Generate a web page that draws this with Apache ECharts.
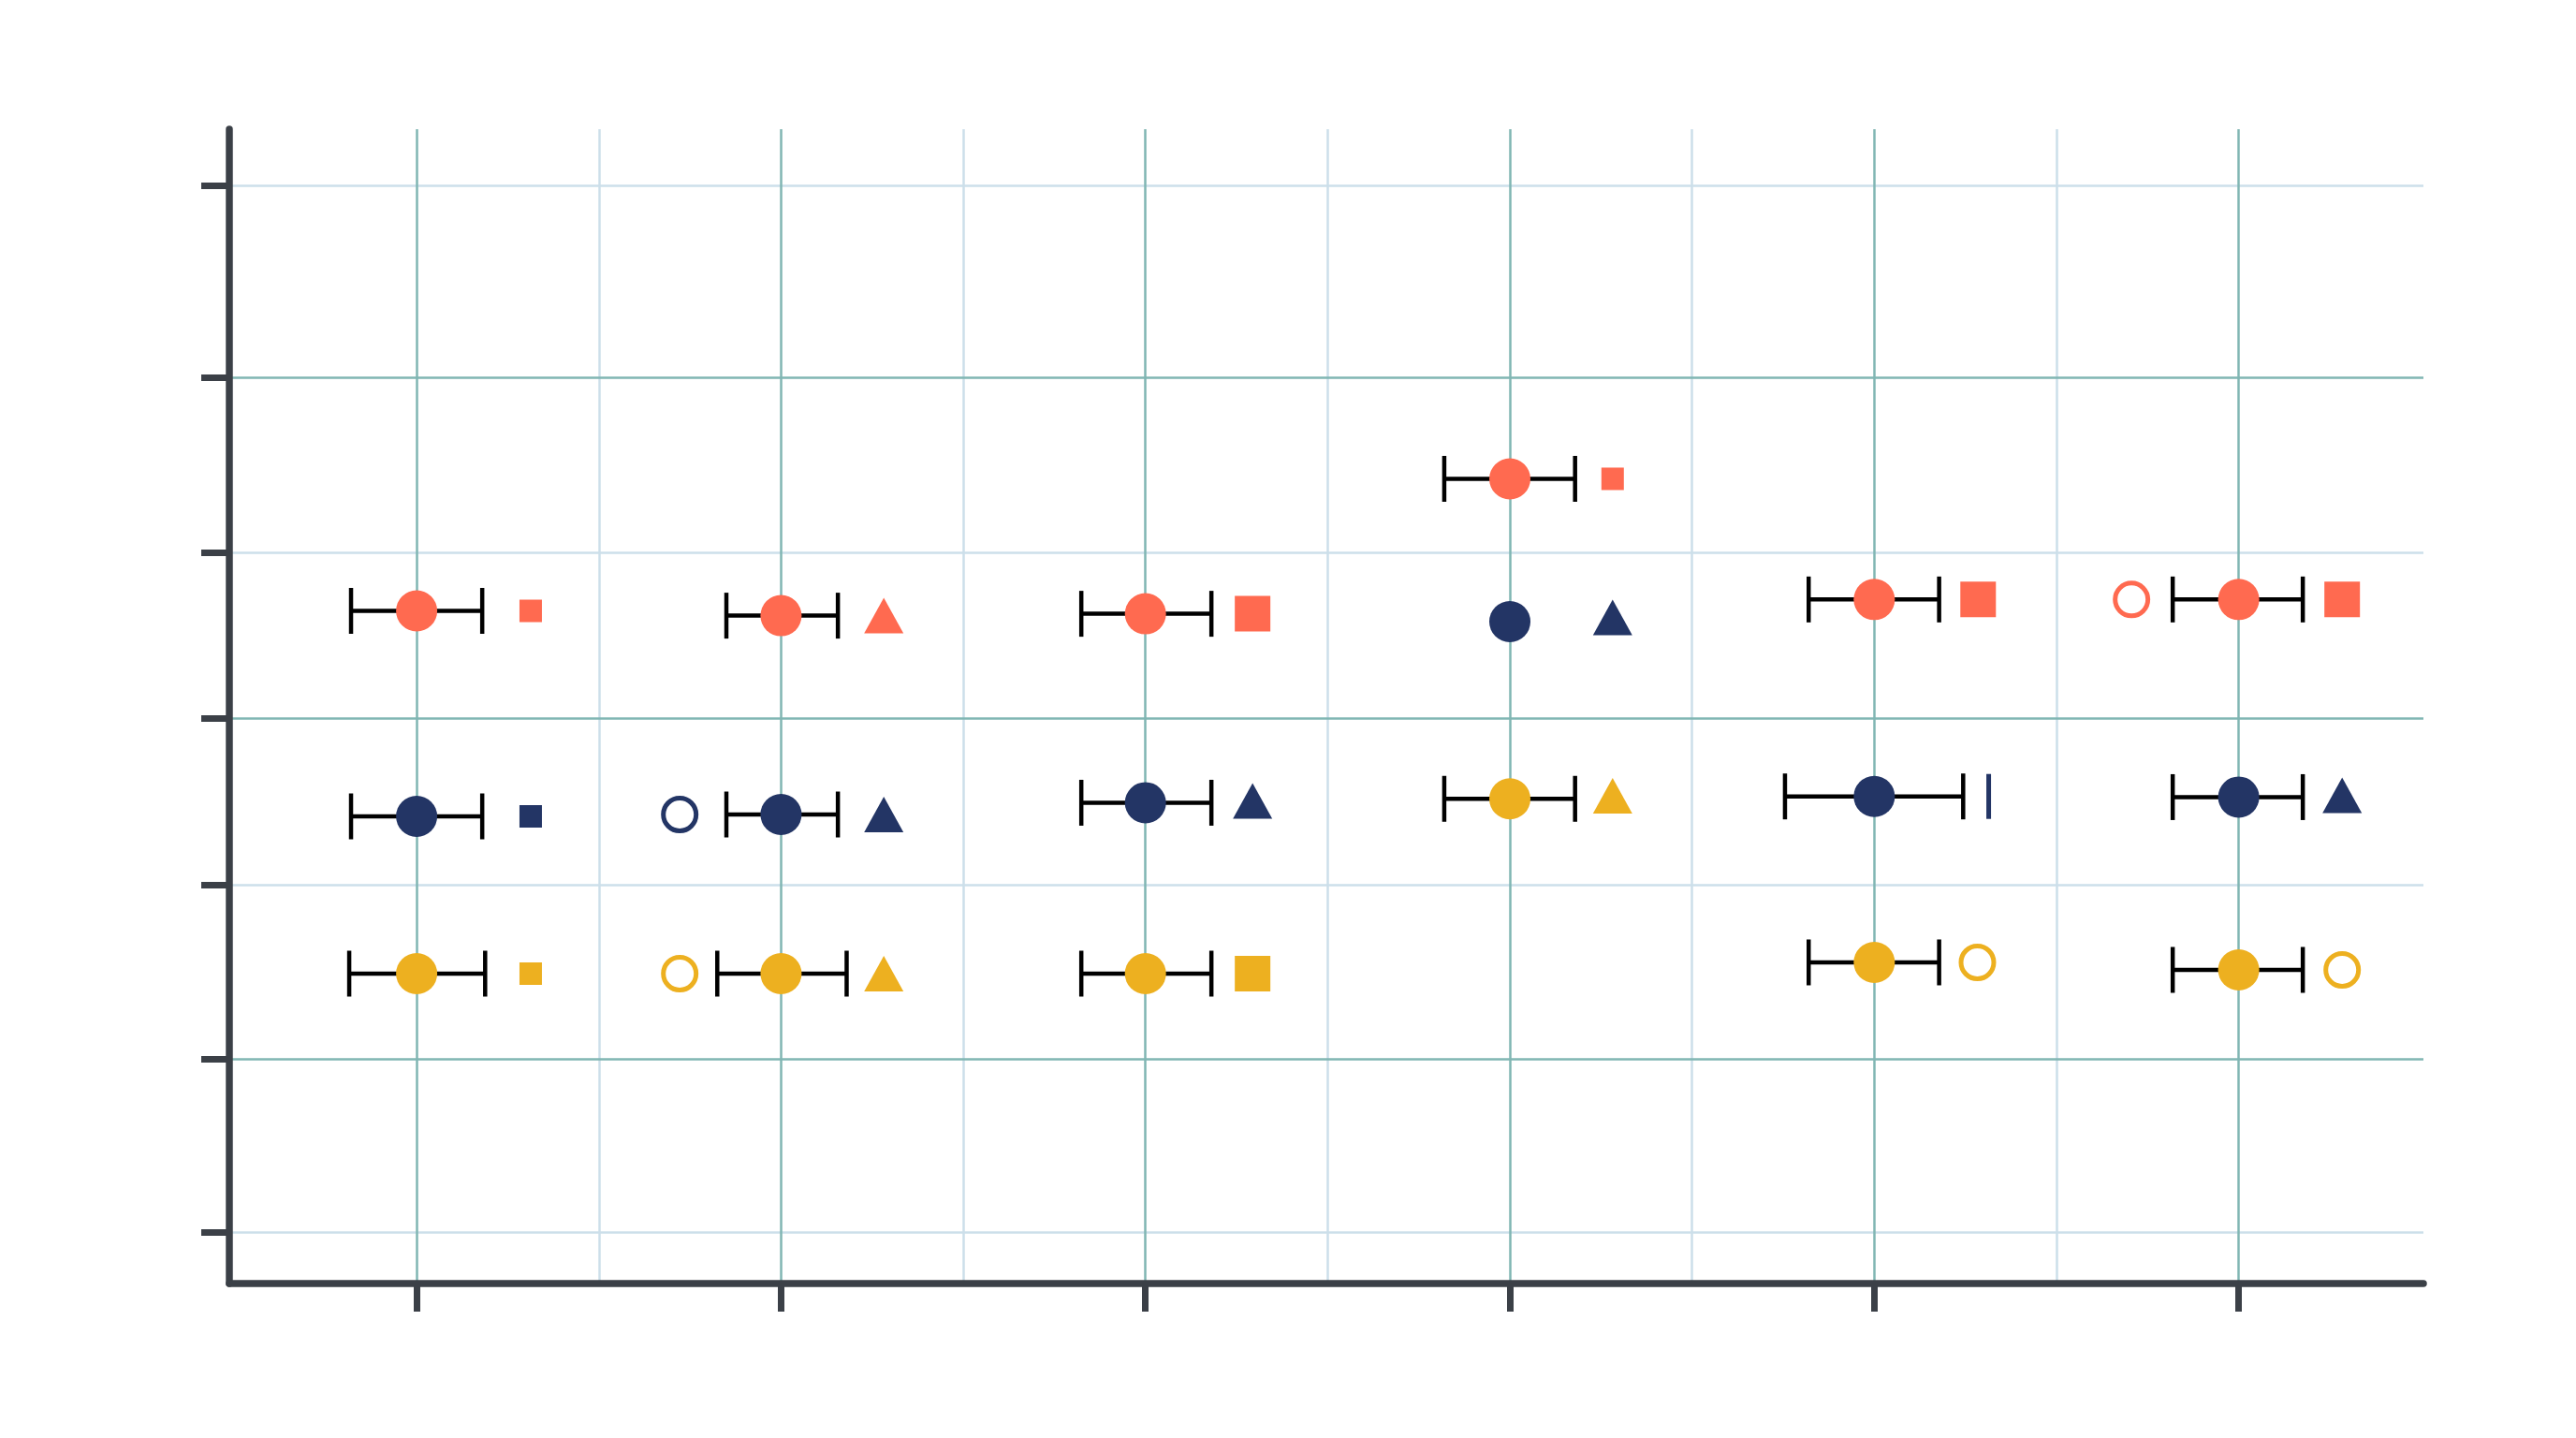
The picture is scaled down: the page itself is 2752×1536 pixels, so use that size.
<!DOCTYPE html>
<html>
<head>
<meta charset="utf-8">
<script src="https://cdn.jsdelivr.net/npm/echarts@6/dist/echarts.min.js"></script>
<style>
  html, body { margin: 0; padding: 0; background: #ffffff; }
  #chart { width: 2752px; height: 1536px; }
</style>
</head>
<body>
<div id="chart"></div>
<script>
// ---------- data ----------
const categories = [1, 2, 3, 4, 5, 6];

// y positions of the main points per group
const redY    = [46.29, 46.01, 46.12, 54.04, 46.96, 46.96];
const navyY   = [34.23, 34.34, 35.03, 45.66, 35.40, 35.36];
const yellowY = [25.00, 25.00, 25.00, 35.26, 25.66, 25.22];

// horizontal error intervals (x units)
const redLow     = [0.820, 1.850, 2.824, 3.820, 4.820, 5.819];
const redHigh    = [1.180, 2.156, 3.181, 4.179, 5.178, 6.176];
const navyLow    = [0.820, 1.850, 2.824, null,  4.755, 5.819];
const navyHigh   = [1.180, 2.156, 3.181, null,  5.244, 6.176];
const yellowLow  = [0.815, 1.825, 2.824, 3.820, 4.820, 5.819];
const yellowHigh = [1.188, 2.180, 3.181, 4.179, 5.178, 6.176];

// secondary markers: [x, y, kind, group]
const sideMarkers = [
  [1.313, 46.29, 'smallSquare', 'red'],
  [1.313, 34.23, 'smallSquare', 'navy'],
  [1.313, 25.00, 'smallSquare', 'yellow'],
  [2.282, 46.01, 'triangle', 'red'],
  [2.282, 34.34, 'triangle', 'navy'],
  [1.722, 34.34, 'ring', 'navy'],
  [2.282, 25.00, 'triangle', 'yellow'],
  [1.722, 25.00, 'ring', 'yellow'],
  [3.294, 46.12, 'bigSquare', 'red'],
  [3.294, 35.14, 'triangle', 'navy'],
  [3.294, 25.00, 'bigSquare', 'yellow'],
  [4.282, 54.04, 'smallSquare', 'red'],
  [4.282, 45.90, 'triangle', 'navy'],
  [4.282, 35.44, 'triangle', 'yellow'],
  [5.285, 46.96, 'bigSquare', 'red'],
  [5.314, 35.40, 'bar', 'navy'],
  [5.283, 25.66, 'ring', 'yellow'],
  [5.706, 46.96, 'ring', 'red'],
  [6.284, 46.96, 'bigSquare', 'red'],
  [6.284, 35.46, 'triangle', 'navy'],
  [6.284, 25.22, 'ring', 'yellow']
];

// grid line positions
const majorXLines = [1, 2, 3, 4, 5, 6];
const minorXLines = [1.5, 2.5, 3.5, 4.5, 5.5];
const majorYLines = [60, 40, 20];
const minorYLines = [71.26, 49.70, 30.22, 9.84];
const yTickValues = [71.26, 60, 49.70, 40, 30.22, 20, 9.84];

// ---------- styles ----------
const COLORS = { red: '#FF6A50', navy: '#233565', yellow: '#EDB020' };
const AXIS = '#3B4047';
const TEAL = '#80B6B3';
const LIGHT = '#CCDFEA';

const kindStyle = {
  smallSquare: { symbol: 'rect', size: [24, 24], filled: true },
  bigSquare:   { symbol: 'rect', size: [38, 38], filled: true },
  triangle:    { symbol: 'triangle', size: [42, 38], filled: true },
  ring:        { symbol: 'circle', size: 35, filled: false },
  bar:         { symbol: 'rect', size: [5, 48], filled: true }
};

// ---------- build ----------
function errData(low, high, ys) {
  const out = [];
  for (let i = 0; i < ys.length; i++) {
    if (low[i] != null && high[i] != null) out.push([low[i], high[i], ys[i]]);
  }
  return out;
}
const errorData = [].concat(
  errData(redLow, redHigh, redY),
  errData(navyLow, navyHigh, navyY),
  errData(yellowLow, yellowHigh, yellowY)
);

function renderErr(params, api) {
  const y = api.value(2);
  const p1 = api.coord([api.value(0), y]);
  const p2 = api.coord([api.value(1), y]);
  const h = 24.5;
  const st = { stroke: '#000000', lineWidth: 4.5, lineCap: 'butt' };
  return {
    type: 'group',
    children: [
      { type: 'line', shape: { x1: p1[0], y1: p1[1], x2: p2[0], y2: p2[1] }, style: st },
      { type: 'line', shape: { x1: p1[0], y1: p1[1] - h, x2: p1[0], y2: p1[1] + h }, style: st },
      { type: 'line', shape: { x1: p2[0], y1: p2[1] - h, x2: p2[0], y2: p2[1] + h }, style: st }
    ]
  };
}

const gridLineData = []
  .concat(minorXLines.map(v => ({ xAxis: v, lineStyle: { color: LIGHT, width: 2.5, type: 'solid' } })))
  .concat(minorYLines.map(v => ({ yAxis: v, lineStyle: { color: LIGHT, width: 2.5, type: 'solid' } })))
  .concat(majorXLines.map(v => ({ xAxis: v, lineStyle: { color: TEAL, width: 2.5, type: 'solid' } })))
  .concat(majorYLines.map(v => ({ yAxis: v, lineStyle: { color: TEAL, width: 2.5, type: 'solid' } })));

const sideSeries = sideMarkers.map(m => {
  const ks = kindStyle[m[2]];
  const col = COLORS[m[3]];
  return {
    type: 'scatter',
    z: 4,
    silent: true,
    symbol: ks.symbol,
    symbolSize: ks.size,
    itemStyle: ks.filled
      ? { color: col, opacity: 1 }
      : { color: '#ffffff', borderColor: col, borderWidth: 5, opacity: 1 },
    data: [[m[0], m[1]]]
  };
});

function mainSeries(ys, color) {
  return {
    type: 'scatter',
    z: 5,
    silent: true,
    symbol: 'circle',
    symbolSize: 44,
    itemStyle: { color: color, opacity: 1 },
    data: categories.map((c, i) => [c, ys[i]])
  };
}

const option = {
  backgroundColor: '#ffffff',
  animation: false,
  grid: { left: 245, right: 163, top: 138, bottom: 165, containLabel: false },
  xAxis: {
    type: 'value',
    min: 0.486,
    max: 6.507,
    z: 10,
    axisLine: { show: true, onZero: false, lineStyle: { color: AXIS, width: 7.5 } },
    axisTick: { show: true, length: 30, customValues: categories, lineStyle: { color: AXIS, width: 7 } },
    axisLabel: { show: false, customValues: categories },
    splitLine: { show: false }
  },
  yAxis: {
    type: 'value',
    min: 6.813,
    max: 74.56,
    z: 10,
    axisLine: { show: true, onZero: false, lineStyle: { color: AXIS, width: 7.5 } },
    axisTick: { show: true, length: 30, customValues: yTickValues, lineStyle: { color: AXIS, width: 7 } },
    axisLabel: { show: false, customValues: yTickValues },
    splitLine: { show: false }
  },
  series: [
    {
      type: 'scatter',
      z: 1,
      silent: true,
      data: [],
      markLine: {
        silent: true,
        symbol: ['none', 'none'],
        label: { show: false },
        animation: false,
        data: gridLineData
      }
    },
    {
      type: 'custom',
      z: 3,
      silent: true,
      renderItem: renderErr,
      encode: { x: [0, 1], y: 2 },
      data: errorData
    },
    mainSeries(redY, COLORS.red),
    mainSeries(navyY, COLORS.navy),
    mainSeries(yellowY, COLORS.yellow)
  ].concat(sideSeries)
};

const chart = echarts.init(document.getElementById('chart'));
chart.setOption(option);
</script>
</body>
</html>
